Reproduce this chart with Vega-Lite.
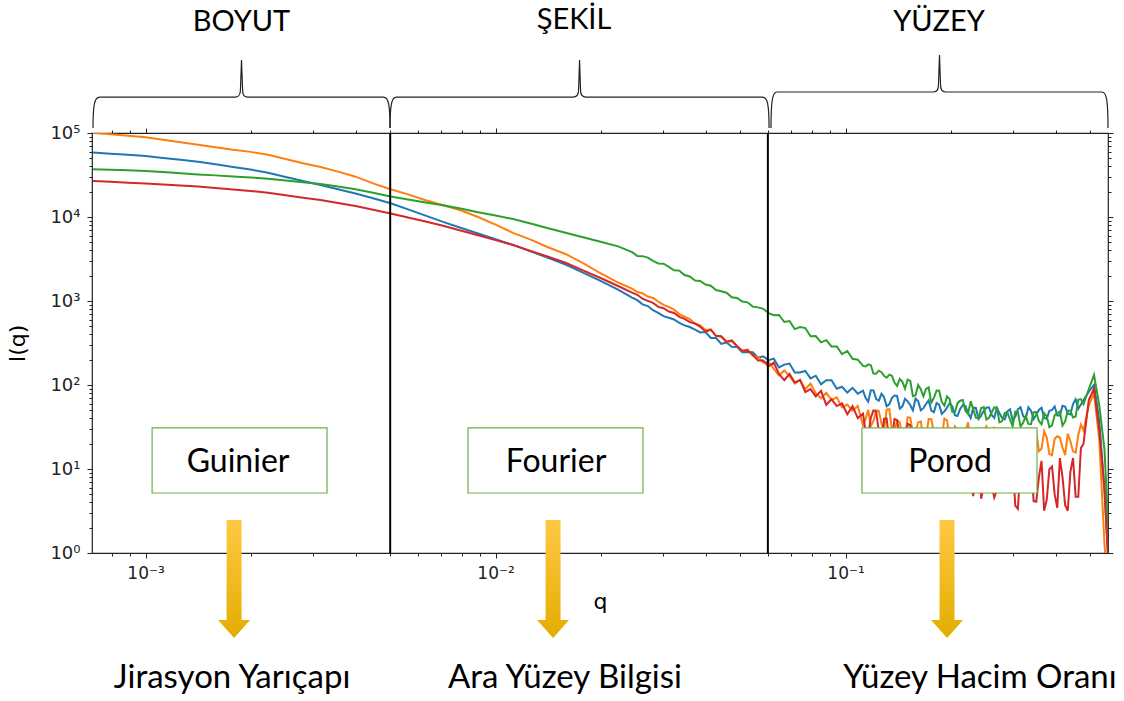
{
"$schema": "https://vega.github.io/schema/vega-lite/v6.json",
"autosize": {"type": "none"},
"padding": {"left": 92, "top": 133, "right": 16, "bottom": 148},
"width": 1016,
"height": 420,
"background": "white",
"config": {"view": {"stroke": "#222", "strokeWidth": 1.2}, "font": "DejaVu Sans"},
"data": {"values": [{}]},
"datasets": {
"blue": [
{"q":0.000708,"I":58600},{"q":0.000794,"I":56800},{"q":0.000891,"I":55000},{"q":0.001,"I":53100},{"q":0.001122,"I":50400},{"q":0.001259,"I":47900},{"q":0.001413,"I":45500},{"q":0.001585,"I":42400},{"q":0.001778,"I":39400},{"q":0.001995,"I":36700},{"q":0.002239,"I":33600},{"q":0.002512,"I":30000},{"q":0.002818,"I":26800},{"q":0.003162,"I":24000},{"q":0.003548,"I":21400},{"q":0.003981,"I":19050},{"q":0.004467,"I":16700},{"q":0.005012,"I":14600},{"q":0.005623,"I":12330},{"q":0.00631,"I":10400},{"q":0.007079,"I":8750},{"q":0.007943,"I":7450},{"q":0.008913,"I":6370},{"q":0.01,"I":5430},{"q":0.01122,"I":4650},{"q":0.01259,"I":3900},{"q":0.01413,"I":3270},{"q":0.01585,"I":2720},{"q":0.01778,"I":2180},{"q":0.01995,"I":1740},{"q":0.02239,"I":1370},
{"q":0.02455,"I":1096},{"q":0.02541,"I":1023},{"q":0.0263,"I":912},{"q":0.02723,"I":871},{"q":0.02818,"I":776},{"q":0.02917,"I":724},{"q":0.0302,"I":661},{"q":0.03126,"I":631},{"q":0.03236,"I":603},{"q":0.0335,"I":550},
{"q":0.03467,"I":513},{"q":0.03589,"I":490},{"q":0.03715,"I":457},{"q":0.03846,"I":422},{"q":0.03981,"I":427},{"q":0.04121,"I":363},{"q":0.04266,"I":363},{"q":0.04416,"I":309},{"q":0.04571,"I":320},{"q":0.04732,"I":286},
{"q":0.04898,"I":284},{"q":0.0507,"I":245},{"q":0.05248,"I":247},{"q":0.05433,"I":245},{"q":0.05623,"I":211},{"q":0.05821,"I":219},{"q":0.06026,"I":197},{"q":0.06237,"I":206},{"q":0.06457,"I":162},{"q":0.06683,"I":175},
{"q":0.06918,"I":180},{"q":0.07161,"I":141},{"q":0.07413,"I":141},{"q":0.07674,"I":147},{"q":0.07943,"I":120},{"q":0.08222,"I":129},{"q":0.08511,"I":102},{"q":0.0881,"I":114},{"q":0.0912,"I":114},{"q":0.09441,"I":90.2},
{"q":0.09772,"I":95.3},{"q":0.1012,"I":81.3},{"q":0.1047,"I":92.5},{"q":0.1084,"I":78.9},{"q":0.1122,"I":85.7},{"q":0.1161,"I":63.4},{"q":0.1202,"I":86.3},{"q":0.1245,"I":64.9},{"q":0.1288,"I":71.9},{"q":0.1334,"I":59.3},
{"q":0.138,"I":74.8},{"q":0.1429,"I":52.4},{"q":0.1479,"I":68.5},{"q":0.1531,"I":57.5},{"q":0.1585,"I":68.7},{"q":0.1641,"I":49.9},{"q":0.1698,"I":59.4},{"q":0.1758,"I":49.4},{"q":0.182,"I":60.8},{"q":0.1884,"I":45.4},
{"q":0.195,"I":53.8},{"q":0.2018,"I":56.0},{"q":0.2089,"I":42.7},{"q":0.2163,"I":57.4},{"q":0.2239,"I":46.2},{"q":0.2317,"I":53.7},{"q":0.2399,"I":39.4},{"q":0.2483,"I":49.3},{"q":0.257,"I":54.3},{"q":0.2661,"I":40.6},
{"q":0.2754,"I":46.0},{"q":0.2851,"I":39.0},{"q":0.2951,"I":51.4},{"q":0.3055,"I":42.0},{"q":0.3162,"I":54.3},{"q":0.3273,"I":39.7},{"q":0.3388,"I":49.5},{"q":0.3508,"I":44.1},{"q":0.3631,"I":53.5},{"q":0.3758,"I":39.4},
{"q":0.3891,"I":50.6},{"q":0.4027,"I":43.3},{"q":0.4169,"I":56.5},{"q":0.4315,"I":45.9},{"q":0.4467,"I":59.4},{"q":0.4624,"I":52.0},{"q":0.4786,"I":66.1},{"q":0.4955,"I":83.2},{"q":0.5129,"I":100},{"q":0.5309,"I":38.0},
{"q":0.5495,"I":5.62},{"q":0.5689,"I":0.363},
{"q":0.11415,"I":69.8},{"q":0.11812,"I":86.5},{"q":0.12229,"I":68.2},{"q":0.12667,"I":78.5},{"q":0.13104,"I":55.8},{"q":0.13572,"I":70.5},{"q":0.1404,"I":74.0},{"q":0.14539,"I":55.7},{"q":0.15048,"I":64.0},{"q":0.15577,"I":50.0},
{"q":0.16126,"I":64.3},{"q":0.16696,"I":53.0},{"q":0.17276,"I":65.8},{"q":0.17886,"I":47.3},{"q":0.18517,"I":58.2},{"q":0.19168,"I":48.5},{"q":0.1984,"I":60.8},{"q":0.20532,"I":43.8},{"q":0.21254,"I":51.9},{"q":0.22007,"I":56.0},
{"q":0.2278,"I":40.4},{"q":0.23574,"I":53.3},{"q":0.24408,"I":43.0},{"q":0.25263,"I":53.7},{"q":0.26148,"I":44.1},{"q":0.27074,"I":53.5},{"q":0.2802,"I":40.5},{"q":0.29007,"I":48.6},{"q":0.30024,"I":38.3},{"q":0.31082,"I":51.4},
{"q":0.32171,"I":42.8},{"q":0.333,"I":54.3},{"q":0.3447,"I":39.3},{"q":0.35691,"I":50.4},{"q":0.36943,"I":40.7},{"q":0.38235,"I":49.4},{"q":0.39588,"I":55.7},{"q":0.40972,"I":43.4},{"q":0.42416,"I":55.3},{"q":0.43901,"I":44.7},
{"q":0.45448,"I":67.5},{"q":0.47046,"I":58.6}
],
"orange": [
{"q":0.000708,"I":100000},{"q":0.000794,"I":96600},{"q":0.000891,"I":92900},{"q":0.001,"I":89100},{"q":0.001122,"I":83200},{"q":0.001259,"I":77600},{"q":0.001413,"I":72400},{"q":0.001585,"I":67600},{"q":0.001778,"I":63100},{"q":0.001995,"I":59600},{"q":0.002239,"I":55000},{"q":0.002512,"I":49000},{"q":0.002818,"I":43650},{"q":0.003162,"I":39400},{"q":0.003548,"I":34700},{"q":0.003981,"I":30200},{"q":0.004467,"I":25100},{"q":0.005012,"I":21400},{"q":0.005623,"I":18600},{"q":0.00631,"I":15850},{"q":0.007079,"I":13800},{"q":0.007943,"I":12020},{"q":0.008913,"I":10000},{"q":0.01,"I":8130},{"q":0.01122,"I":6460},{"q":0.01259,"I":5370},{"q":0.01413,"I":4370},{"q":0.01585,"I":3630},{"q":0.01778,"I":2820},{"q":0.01995,"I":2140},{"q":0.02239,"I":1660},
{"q":0.02455,"I":1406},{"q":0.02541,"I":1279},{"q":0.0263,"I":1239},{"q":0.02723,"I":1130},{"q":0.02818,"I":1086},{"q":0.02917,"I":984},{"q":0.0302,"I":900},{"q":0.03126,"I":849},{"q":0.03236,"I":789},{"q":0.0335,"I":698},
{"q":0.03467,"I":650},{"q":0.03589,"I":607},{"q":0.03715,"I":537},{"q":0.03846,"I":511},{"q":0.03981,"I":451},{"q":0.04121,"I":459},{"q":0.04266,"I":382},{"q":0.04416,"I":374},{"q":0.04571,"I":324},{"q":0.04732,"I":334},
{"q":0.04898,"I":291},{"q":0.0507,"I":256},{"q":0.05248,"I":265},{"q":0.05433,"I":222},{"q":0.05623,"I":217},{"q":0.05821,"I":184},{"q":0.06026,"I":189},{"q":0.06237,"I":156},{"q":0.06457,"I":130},{"q":0.06683,"I":149},
{"q":0.06918,"I":128},{"q":0.07161,"I":104},{"q":0.07413,"I":114},{"q":0.07674,"I":89.5},{"q":0.07943,"I":104},{"q":0.08222,"I":79.8},{"q":0.08511,"I":69.5},{"q":0.0881,"I":80.9},{"q":0.0912,"I":66.5},{"q":0.09441,"I":71.3},
{"q":0.09772,"I":54.2},{"q":0.1012,"I":58.6},{"q":0.1047,"I":49.3},{"q":0.1084,"I":56.4},{"q":0.1122,"I":33.1},{"q":0.1161,"I":50.6},{"q":0.1202,"I":37.4},{"q":0.1245,"I":49.0},{"q":0.1288,"I":28.9},{"q":0.1334,"I":51.5},
{"q":0.138,"I":28.4},{"q":0.1429,"I":35.9},{"q":0.1479,"I":24.0},{"q":0.1531,"I":40.9},{"q":0.1585,"I":27.4},{"q":0.1641,"I":36.6},{"q":0.1698,"I":23.7},{"q":0.1758,"I":39.1},{"q":0.182,"I":27.1},{"q":0.1884,"I":23.9},
{"q":0.195,"I":38.0},{"q":0.2018,"I":20.7},{"q":0.2089,"I":29.6},{"q":0.2163,"I":21.2},{"q":0.2239,"I":36.0},{"q":0.2317,"I":22.4},{"q":0.2399,"I":17.8},{"q":0.2483,"I":29.2},{"q":0.257,"I":22.4},{"q":0.2661,"I":29.9},
{"q":0.2754,"I":17.4},{"q":0.2851,"I":25.1},{"q":0.2951,"I":15.3},{"q":0.3055,"I":27.1},{"q":0.3162,"I":17.7},{"q":0.3273,"I":22.2},{"q":0.3388,"I":15.5},{"q":0.3508,"I":27.5},{"q":0.3631,"I":17.4},{"q":0.3758,"I":23.7},
{"q":0.3891,"I":14.6},{"q":0.4027,"I":24.5},{"q":0.4169,"I":18.0},{"q":0.4315,"I":26.3},{"q":0.4467,"I":16.2},{"q":0.4624,"I":25.4},{"q":0.4786,"I":28.8},{"q":0.4955,"I":57.5},{"q":0.5129,"I":79.4},{"q":0.5309,"I":22.4},
{"q":0.5495,"I":1.26},{"q":0.5689,"I":0.158},
{"q":0.11415,"I":39.5},{"q":0.11812,"I":32.4},{"q":0.12229,"I":50.0},{"q":0.12667,"I":35.1},{"q":0.13104,"I":50.9},{"q":0.13572,"I":29.0},{"q":0.1404,"I":37.9},{"q":0.14539,"I":23.4},{"q":0.15048,"I":41.3},{"q":0.15577,"I":26.7},
{"q":0.16126,"I":35.7},{"q":0.16696,"I":22.3},{"q":0.17276,"I":39.4},{"q":0.17886,"I":27.4},{"q":0.18517,"I":22.5},{"q":0.19168,"I":39.7},{"q":0.1984,"I":22.4},{"q":0.20532,"I":32.1},{"q":0.21254,"I":20.0},{"q":0.22007,"I":27.6},
{"q":0.2278,"I":18.5},{"q":0.23574,"I":30.3},{"q":0.24408,"I":20.9},{"q":0.25263,"I":32.1},{"q":0.26148,"I":18.0},{"q":0.27074,"I":24.9},{"q":0.2802,"I":15.6},{"q":0.29007,"I":28.6},{"q":0.30024,"I":18.0},{"q":0.31082,"I":26.9},
{"q":0.32171,"I":18.8},{"q":0.333,"I":15.1},{"q":0.3447,"I":24.1},{"q":0.35691,"I":16.3},{"q":0.36943,"I":28.2},{"q":0.38235,"I":15.1},{"q":0.39588,"I":22.9},{"q":0.40972,"I":23.7},{"q":0.42416,"I":14.6},{"q":0.43901,"I":21.4},
{"q":0.45448,"I":15.7},{"q":0.47046,"I":33.9}
],
"green": [
{"q":0.000708,"I":37000},{"q":0.000794,"I":36400},{"q":0.000891,"I":35900},{"q":0.001,"I":35300},{"q":0.001122,"I":34300},{"q":0.001259,"I":33200},{"q":0.001413,"I":32100},{"q":0.001585,"I":31300},{"q":0.001778,"I":30400},{"q":0.001995,"I":29600},{"q":0.002239,"I":28500},{"q":0.002512,"I":27200},{"q":0.002818,"I":25900},{"q":0.003162,"I":24700},{"q":0.003548,"I":23100},{"q":0.003981,"I":21400},{"q":0.004467,"I":19400},{"q":0.005012,"I":17500},{"q":0.005623,"I":16200},{"q":0.00631,"I":14900},{"q":0.007079,"I":13800},{"q":0.007943,"I":12600},{"q":0.008913,"I":11400},{"q":0.01,"I":10400},{"q":0.01122,"I":9460},{"q":0.01259,"I":8360},{"q":0.01413,"I":7360},{"q":0.01585,"I":6500},{"q":0.01778,"I":5740},{"q":0.01995,"I":5070},{"q":0.02239,"I":4470},
{"q":0.02455,"I":3820},{"q":0.02541,"I":3440},{"q":0.0263,"I":3420},{"q":0.02723,"I":3290},{"q":0.02818,"I":3000},{"q":0.02917,"I":2800},{"q":0.0302,"I":2780},{"q":0.03126,"I":2550},{"q":0.03236,"I":2320},{"q":0.0335,"I":2300},
{"q":0.03467,"I":2040},{"q":0.03589,"I":1960},{"q":0.03715,"I":1750},{"q":0.03846,"I":1730},{"q":0.03981,"I":1570},{"q":0.04121,"I":1520},{"q":0.04266,"I":1350},{"q":0.04416,"I":1306},{"q":0.04571,"I":1256},{"q":0.04732,"I":1107},
{"q":0.04898,"I":1086},{"q":0.0507,"I":986},{"q":0.05248,"I":964},{"q":0.05433,"I":857},{"q":0.05623,"I":840},{"q":0.05821,"I":807},{"q":0.06026,"I":718},{"q":0.06237,"I":676},{"q":0.06457,"I":682},{"q":0.06683,"I":562},
{"q":0.06918,"I":578},{"q":0.07161,"I":463},{"q":0.07413,"I":490},{"q":0.07674,"I":476},{"q":0.07943,"I":380},{"q":0.08222,"I":382},{"q":0.08511,"I":322},{"q":0.0881,"I":342},{"q":0.0912,"I":288},{"q":0.09441,"I":287},
{"q":0.09772,"I":233},{"q":0.1012,"I":254},{"q":0.1047,"I":205},{"q":0.1084,"I":200},{"q":0.1122,"I":169},{"q":0.1161,"I":176},{"q":0.1202,"I":137},{"q":0.1245,"I":148},{"q":0.1288,"I":128.5},{"q":0.1334,"I":132.7},
{"q":0.138,"I":107},{"q":0.1429,"I":118},{"q":0.1479,"I":90.4},{"q":0.1531,"I":112},{"q":0.1585,"I":75.0},{"q":0.1641,"I":88.9},{"q":0.1698,"I":89.7},{"q":0.1758,"I":61.4},{"q":0.182,"I":85.7},{"q":0.1884,"I":62.8},
{"q":0.195,"I":73.1},{"q":0.2018,"I":47.8},{"q":0.2089,"I":60.8},{"q":0.2163,"I":66.4},{"q":0.2239,"I":45.3},{"q":0.2317,"I":51.2},{"q":0.2399,"I":40.1},{"q":0.2483,"I":54.5},{"q":0.257,"I":40.7},{"q":0.2661,"I":54.1},
{"q":0.2754,"I":35.9},{"q":0.2851,"I":46.5},{"q":0.2951,"I":38.9},{"q":0.3055,"I":48.1},{"q":0.3162,"I":32.0},{"q":0.3273,"I":42.5},{"q":0.3388,"I":34.2},{"q":0.3508,"I":47.6},{"q":0.3631,"I":34.0},{"q":0.3758,"I":42.3},
{"q":0.3891,"I":33.0},{"q":0.4027,"I":46.0},{"q":0.4169,"I":32.9},{"q":0.4315,"I":49.4},{"q":0.4467,"I":41.1},{"q":0.4624,"I":66.5},{"q":0.4786,"I":58.9},{"q":0.4955,"I":89.1},{"q":0.5129,"I":132},{"q":0.5309,"I":57.5},
{"q":0.5495,"I":17.0},{"q":0.5689,"I":0.832},
{"q":0.11415,"I":166},{"q":0.11812,"I":172},{"q":0.12229,"I":136},{"q":0.12667,"I":142},{"q":0.13104,"I":122},{"q":0.13572,"I":128.5},{"q":0.1404,"I":97.5},{"q":0.14539,"I":109},{"q":0.15048,"I":116},{"q":0.15577,"I":73.8},
{"q":0.16126,"I":100},{"q":0.16696,"I":73.5},{"q":0.17276,"I":93.5},{"q":0.17886,"I":70.1},{"q":0.18517,"I":85.3},{"q":0.19168,"I":57.0},{"q":0.1984,"I":67.9},{"q":0.20532,"I":47.5},{"q":0.21254,"I":65.0},{"q":0.22007,"I":49.4},
{"q":0.2278,"I":64.3},{"q":0.23574,"I":40.8},{"q":0.24408,"I":53.1},{"q":0.25263,"I":38.7},{"q":0.26148,"I":47.0},{"q":0.27074,"I":52.4},{"q":0.2802,"I":37.2},{"q":0.29007,"I":47.2},{"q":0.30024,"I":32.1},{"q":0.31082,"I":47.8},
{"q":0.32171,"I":35.6},{"q":0.333,"I":34.4},{"q":0.3447,"I":47.4},{"q":0.35691,"I":37.2},{"q":0.36943,"I":46.1},{"q":0.38235,"I":31.5},{"q":0.39588,"I":43.8},{"q":0.40972,"I":48.4},{"q":0.42416,"I":36.8},{"q":0.43901,"I":49.4},
{"q":0.45448,"I":42.1},{"q":0.47046,"I":67.9}
],
"red": [
{"q":0.000708,"I":26900},{"q":0.000794,"I":26200},{"q":0.000891,"I":25600},{"q":0.001,"I":25100},{"q":0.001122,"I":24400},{"q":0.001259,"I":23700},{"q":0.001413,"I":23000},{"q":0.001585,"I":22200},{"q":0.001778,"I":21300},{"q":0.001995,"I":20400},{"q":0.002239,"I":19400},{"q":0.002512,"I":18200},{"q":0.002818,"I":17000},{"q":0.003162,"I":15900},{"q":0.003548,"I":14700},{"q":0.003981,"I":13500},{"q":0.004467,"I":12200},{"q":0.005012,"I":11000},{"q":0.005623,"I":9890},{"q":0.00631,"I":8830},{"q":0.007079,"I":7870},{"q":0.007943,"I":6920},{"q":0.008913,"I":6050},{"q":0.01,"I":5310},{"q":0.01122,"I":4650},{"q":0.01259,"I":3950},{"q":0.01413,"I":3370},{"q":0.01585,"I":2850},{"q":0.01778,"I":2320},{"q":0.01995,"I":1880},{"q":0.02239,"I":1510},
{"q":0.02455,"I":1259},{"q":0.02541,"I":1186},{"q":0.0263,"I":1064},{"q":0.02723,"I":1005},{"q":0.02818,"I":948},{"q":0.02917,"I":851},{"q":0.0302,"I":820},{"q":0.03126,"I":748},{"q":0.03236,"I":721},{"q":0.0335,"I":647},
{"q":0.03467,"I":614},{"q":0.03589,"I":560},{"q":0.03715,"I":540},{"q":0.03846,"I":492},{"q":0.03981,"I":432},{"q":0.04121,"I":453},{"q":0.04266,"I":385},{"q":0.04416,"I":380},{"q":0.04571,"I":327},{"q":0.04732,"I":339},
{"q":0.04898,"I":290},{"q":0.0507,"I":254},{"q":0.05248,"I":259},{"q":0.05433,"I":229},{"q":0.05623,"I":196},{"q":0.05821,"I":196},{"q":0.06026,"I":166},{"q":0.06237,"I":185},{"q":0.06457,"I":135},{"q":0.06683,"I":114},
{"q":0.06918,"I":135},{"q":0.07161,"I":107},{"q":0.07413,"I":115},{"q":0.07674,"I":82.4},{"q":0.07943,"I":89.5},{"q":0.08222,"I":73.1},{"q":0.08511,"I":85.1},{"q":0.0881,"I":58.1},{"q":0.0912,"I":67.6},{"q":0.09441,"I":56.1},
{"q":0.09772,"I":60.3},{"q":0.1012,"I":44.9},{"q":0.1047,"I":56.0},{"q":0.1084,"I":40.4},{"q":0.1122,"I":45.5},{"q":0.1161,"I":25.5},{"q":0.1202,"I":49.8},{"q":0.1245,"I":28.0},{"q":0.1288,"I":39.5},{"q":0.1334,"I":21.2},
{"q":0.138,"I":39.4},{"q":0.1429,"I":23.2},{"q":0.1479,"I":18.8},{"q":0.1531,"I":33.3},{"q":0.1585,"I":14.2},{"q":0.1641,"I":21.8},{"q":0.1698,"I":13.4},{"q":0.1758,"I":26.0},{"q":0.182,"I":13.3},{"q":0.1884,"I":7.13},
{"q":0.195,"I":20.7},{"q":0.2018,"I":11.4},{"q":0.2089,"I":21.6},{"q":0.2163,"I":6.58},{"q":0.2239,"I":14.5},{"q":0.2317,"I":4.75},{"q":0.2399,"I":16.5},{"q":0.2483,"I":6.31},{"q":0.257,"I":10.2},{"q":0.2661,"I":4.56},
{"q":0.2754,"I":15.8},{"q":0.2851,"I":5.70},{"q":0.2951,"I":11.0},{"q":0.3055,"I":3.67},{"q":0.3162,"I":11.1},{"q":0.3273,"I":5.46},{"q":0.3388,"I":12.2},{"q":0.3508,"I":4.08},{"q":0.3631,"I":12.5},{"q":0.3758,"I":4.32},
{"q":0.3891,"I":10.7},{"q":0.4027,"I":3.44},{"q":0.4169,"I":7.93},{"q":0.4315,"I":3.18},{"q":0.4467,"I":13.5},{"q":0.4624,"I":4.66},{"q":0.4786,"I":20.0},{"q":0.4955,"I":66.1},{"q":0.5129,"I":91.2},{"q":0.5309,"I":28.8},
{"q":0.5495,"I":5.62},{"q":0.5689,"I":0.363},
{"q":0.11415,"I":27.7},{"q":0.11812,"I":40.9},{"q":0.12229,"I":48.1},{"q":0.12667,"I":20.5},{"q":0.13104,"I":40.0},{"q":0.13572,"I":22.5},{"q":0.1404,"I":38.1},{"q":0.14539,"I":22.4},{"q":0.15048,"I":34.6},{"q":0.15577,"I":16.1},
{"q":0.16126,"I":23.7},{"q":0.16696,"I":12.1},{"q":0.17276,"I":23.5},{"q":0.17886,"I":13.8},{"q":0.18517,"I":23.3},{"q":0.19168,"I":7.41},{"q":0.1984,"I":18.6},{"q":0.20532,"I":7.08},{"q":0.21254,"I":14.4},{"q":0.22007,"I":21.7},
{"q":0.2278,"I":7.13},{"q":0.23574,"I":15.7},{"q":0.24408,"I":4.43},{"q":0.25263,"I":16.6},{"q":0.26148,"I":6.34},{"q":0.27074,"I":5.60},{"q":0.2802,"I":15.6},{"q":0.29007,"I":6.55},{"q":0.30024,"I":12.6},{"q":0.31082,"I":3.36},
{"q":0.32171,"I":9.44},{"q":0.333,"I":12.4},{"q":0.3447,"I":4.15},{"q":0.35691,"I":8.02},{"q":0.36943,"I":3.18},{"q":0.38235,"I":9.95},{"q":0.39588,"I":5.02},{"q":0.40972,"I":13.5},{"q":0.42416,"I":3.71},{"q":0.43901,"I":9.23},
{"q":0.45448,"I":4.66},{"q":0.47046,"I":17.7}
]
},
"resolve": {"axis": {"x": "independent", "y": "independent"}},
"layer": [
{"data": {"name": "blue"},
 "mark": {"type": "line", "color": "#1f77b4", "strokeWidth": 2, "clip": true},
 "encoding": {
  "x": {"field": "q", "type": "quantitative", "scale": {"type": "log", "domain": [0.000703, 0.5623], "nice": false},
   "axis": {"orient": "bottom", "values": [0.0008,0.0009,0.001,0.002,0.003,0.004,0.005,0.006,0.007,0.008,0.009,0.01,0.02,0.03,0.04,0.05,0.06,0.07,0.08,0.09,0.1,0.2,0.3,0.4,0.5],
    "labelExpr": "datum.value == 0.001 ? '10⁻³' : datum.value == 0.01 ? '10⁻²' : datum.value == 0.1 ? '10⁻¹' : ''",
    "tickSize": {"condition": {"test": "datum.value == 0.001 || datum.value == 0.01 || datum.value == 0.1", "value": 5}, "value": 3},
    "tickColor": "#222", "tickWidth": 1, "domain": false, "grid": false,
    "labelFont": "DejaVu Sans", "labelFontSize": 17, "labelColor": "#222", "labelPadding": 7, "labelOverlap": false, "labelFlush": false, "labelBound": false,
    "title": "q", "titleFont": "DejaVu Sans", "titleFontSize": 22, "titleFontWeight": "normal", "titleColor": "#000", "titlePadding": 10}},
  "y": {"field": "I", "type": "quantitative", "scale": {"type": "log", "domain": [1, 100000], "nice": false},
   "axis": {"orient": "left", "values": [1,2,3,4,5,6,7,8,9,10,20,30,40,50,60,70,80,90,100,200,300,400,500,600,700,800,900,1000,2000,3000,4000,5000,6000,7000,8000,9000,10000,20000,30000,40000,50000,60000,70000,80000,90000,100000],
    "labelExpr": "datum.value == 1 ? '10⁰' : datum.value == 10 ? '10¹' : datum.value == 100 ? '10²' : datum.value == 1000 ? '10³' : datum.value == 10000 ? '10⁴' : datum.value == 100000 ? '10⁵' : ''",
    "tickSize": {"condition": {"test": "datum.value == 1 || datum.value == 10 || datum.value == 100 || datum.value == 1000 || datum.value == 10000 || datum.value == 100000", "value": 5}, "value": 3},
    "tickColor": "#222", "tickWidth": 1, "domain": false, "grid": false,
    "labelFont": "DejaVu Sans", "labelFontSize": 18, "labelColor": "#222", "labelPadding": 7, "labelOverlap": false, "labelFlush": false, "labelBound": false,
    "title": "I(q)", "titleFont": "DejaVu Sans", "titleFontSize": 22, "titleFontWeight": "normal", "titleColor": "#000", "titlePadding": 20}}
 }},
{"data": {"name": "orange"},
 "mark": {"type": "line", "color": "#ff7f0e", "strokeWidth": 2, "clip": true},
 "encoding": {
  "x": {"field": "q", "type": "quantitative", "scale": {"type": "log", "domain": [0.000703, 0.5623], "nice": false},
   "axis": {"orient": "top", "values": [0.0008,0.0009,0.001,0.002,0.003,0.004,0.005,0.006,0.007,0.008,0.009,0.01,0.02,0.03,0.04,0.05,0.06,0.07,0.08,0.09,0.1,0.2,0.3,0.4,0.5],
    "labels": false, "title": null,
    "tickSize": {"condition": {"test": "datum.value == 0.001 || datum.value == 0.01 || datum.value == 0.1", "value": 5}, "value": 3},
    "tickColor": "#222", "tickWidth": 1, "domain": false, "grid": false}},
  "y": {"field": "I", "type": "quantitative", "scale": {"type": "log", "domain": [1, 100000], "nice": false},
   "axis": {"orient": "right", "values": [1,2,3,4,5,6,7,8,9,10,20,30,40,50,60,70,80,90,100,200,300,400,500,600,700,800,900,1000,2000,3000,4000,5000,6000,7000,8000,9000,10000,20000,30000,40000,50000,60000,70000,80000,90000,100000],
    "labels": false, "title": null,
    "tickSize": {"condition": {"test": "datum.value == 1 || datum.value == 10 || datum.value == 100 || datum.value == 1000 || datum.value == 10000 || datum.value == 100000", "value": 5}, "value": 3},
    "tickColor": "#222", "tickWidth": 1, "domain": false, "grid": false}}
 }},
{"data": {"name": "green"},
 "mark": {"type": "line", "color": "#2ca02c", "strokeWidth": 2, "clip": true},
 "encoding": {
  "x": {"field": "q", "type": "quantitative", "scale": {"type": "log", "domain": [0.000703, 0.5623], "nice": false}, "axis": null},
  "y": {"field": "I", "type": "quantitative", "scale": {"type": "log", "domain": [1, 100000], "nice": false}, "axis": null}
 }},
{"data": {"name": "red"},
 "mark": {"type": "line", "color": "#d62728", "strokeWidth": 2, "clip": true},
 "encoding": {
  "x": {"field": "q", "type": "quantitative", "scale": {"type": "log", "domain": [0.000703, 0.5623], "nice": false}, "axis": null},
  "y": {"field": "I", "type": "quantitative", "scale": {"type": "log", "domain": [1, 100000], "nice": false}, "axis": null}
 }},
{"mark": {"type": "rule", "color": "#000", "strokeWidth": 2},
 "encoding": {"x": {"datum": 0.005, "type": "quantitative", "scale": {"type": "log", "domain": [0.000703, 0.5623], "nice": false}, "axis": null}}},
{"mark": {"type": "rule", "color": "#000", "strokeWidth": 2},
 "encoding": {"x": {"datum": 0.06, "type": "quantitative", "scale": {"type": "log", "domain": [0.000703, 0.5623], "nice": false}, "axis": null}}},
{"mark": {"type": "rect", "fill": "white", "stroke": "#70ad47", "strokeWidth": 1.2},
 "encoding": {
  "x": {"datum": 0.001044, "type": "quantitative", "scale": {"type": "log", "domain": [0.000703, 0.5623], "nice": false}, "axis": null},
  "x2": {"datum": 0.0033},
  "y": {"datum": 30.8, "type": "quantitative", "scale": {"type": "log", "domain": [1, 100000], "nice": false}, "axis": null},
  "y2": {"datum": 5.18}}},
{"mark": {"type": "rect", "fill": "white", "stroke": "#70ad47", "strokeWidth": 1.2},
 "encoding": {
  "x": {"datum": 0.008345, "type": "quantitative", "scale": {"type": "log", "domain": [0.000703, 0.5623], "nice": false}, "axis": null},
  "x2": {"datum": 0.02638},
  "y": {"datum": 30.8, "type": "quantitative", "scale": {"type": "log", "domain": [1, 100000], "nice": false}, "axis": null},
  "y2": {"datum": 5.18}}},
{"mark": {"type": "rect", "fill": "white", "stroke": "#70ad47", "strokeWidth": 1.2},
 "encoding": {
  "x": {"datum": 0.1114, "type": "quantitative", "scale": {"type": "log", "domain": [0.000703, 0.5623], "nice": false}, "axis": null},
  "x2": {"datum": 0.3525},
  "y": {"datum": 30.8, "type": "quantitative", "scale": {"type": "log", "domain": [1, 100000], "nice": false}, "axis": null},
  "y2": {"datum": 5.18}}},
{"mark": {"type": "text", "text": "Guinier", "font": "Lato", "fontSize": 32, "color": "#000", "align": "center", "baseline": "alphabetic"},
 "encoding": {
  "x": {"datum": 0.001838, "type": "quantitative", "scale": {"type": "log", "domain": [0.000703, 0.5623], "nice": false}, "axis": null},
  "y": {"datum": 9.21, "type": "quantitative", "scale": {"type": "log", "domain": [1, 100000], "nice": false}, "axis": null}}},
{"mark": {"type": "text", "text": "Fourier", "font": "Lato", "fontSize": 32, "color": "#000", "align": "center", "baseline": "alphabetic"},
 "encoding": {
  "x": {"datum": 0.01489, "type": "quantitative", "scale": {"type": "log", "domain": [0.000703, 0.5623], "nice": false}, "axis": null},
  "y": {"datum": 9.21, "type": "quantitative", "scale": {"type": "log", "domain": [1, 100000], "nice": false}, "axis": null}}},
{"mark": {"type": "text", "text": "Porod", "font": "Lato", "fontSize": 32, "color": "#000", "align": "center", "baseline": "alphabetic"},
 "encoding": {
  "x": {"datum": 0.1989, "type": "quantitative", "scale": {"type": "log", "domain": [0.000703, 0.5623], "nice": false}, "axis": null},
  "y": {"datum": 9.21, "type": "quantitative", "scale": {"type": "log", "domain": [1, 100000], "nice": false}, "axis": null}}},
{"mark": {"type": "point", "shape": "M-0.127,-1L0.127,-1L0.127,0.695L0.271,0.695L0,1L-0.271,0.695L-0.127,0.695Z", "size": 13924, "filled": true, "opacity": 1, "strokeWidth": 0,
  "fill": {"gradient": "linear", "x1": 0, "y1": 0, "x2": 0, "y2": 1, "stops": [{"offset": 0, "color": "#ffc845"}, {"offset": 1, "color": "#e3ad00"}]}},
 "encoding": {
  "x": {"datum": 0.00179, "type": "quantitative", "scale": {"type": "log", "domain": [0.000703, 0.5623], "nice": false}, "axis": null},
  "y": {"datum": 0.4903, "type": "quantitative", "scale": {"type": "log", "domain": [1, 100000], "nice": false}, "axis": null}}},
{"mark": {"type": "point", "shape": "M-0.127,-1L0.127,-1L0.127,0.695L0.271,0.695L0,1L-0.271,0.695L-0.127,0.695Z", "size": 13924, "filled": true, "opacity": 1, "strokeWidth": 0,
  "fill": {"gradient": "linear", "x1": 0, "y1": 0, "x2": 0, "y2": 1, "stops": [{"offset": 0, "color": "#ffc845"}, {"offset": 1, "color": "#e3ad00"}]}},
 "encoding": {
  "x": {"datum": 0.0146, "type": "quantitative", "scale": {"type": "log", "domain": [0.000703, 0.5623], "nice": false}, "axis": null},
  "y": {"datum": 0.4903, "type": "quantitative", "scale": {"type": "log", "domain": [1, 100000], "nice": false}, "axis": null}}},
{"mark": {"type": "point", "shape": "M-0.127,-1L0.127,-1L0.127,0.695L0.271,0.695L0,1L-0.271,0.695L-0.127,0.695Z", "size": 13924, "filled": true, "opacity": 1, "strokeWidth": 0,
  "fill": {"gradient": "linear", "x1": 0, "y1": 0, "x2": 0, "y2": 1, "stops": [{"offset": 0, "color": "#ffc845"}, {"offset": 1, "color": "#e3ad00"}]}},
 "encoding": {
  "x": {"datum": 0.195, "type": "quantitative", "scale": {"type": "log", "domain": [0.000703, 0.5623], "nice": false}, "axis": null},
  "y": {"datum": 0.4903, "type": "quantitative", "scale": {"type": "log", "domain": [1, 100000], "nice": false}, "axis": null}}},
{"mark": {"type": "point", "shape": "M-1,0.209C-1,0.054,-0.99,0,-0.956,0L-0.04,0C-0.013,0,-0.007,-0.02,-0.007,-0.054L0,-0.249L0.007,-0.054C0.007,-0.02,0.013,0,0.04,0L0.956,0C0.99,0,1,0.054,1,0.209", "size": 88209, "filled": false, "stroke": "#222", "strokeWidth": 1.2, "opacity": 1},
 "encoding": {
  "x": {"datum": 0.00188, "type": "quantitative", "scale": {"type": "log", "domain": [0.000703, 0.5623], "nice": false}, "axis": null},
  "y": {"datum": 268000, "type": "quantitative", "scale": {"type": "log", "domain": [1, 100000], "nice": false}, "axis": null}}},
{"mark": {"type": "point", "shape": "M-1,0.164C-1,0.042,-0.992,0,-0.966,0L-0.032,0C-0.011,0,-0.005,-0.016,-0.005,-0.042L0,-0.195L0.005,-0.042C0.005,-0.016,0.011,0,0.032,0L0.966,0C0.992,0,1,0.042,1,0.164", "size": 143641, "filled": false, "stroke": "#222", "strokeWidth": 1.2, "opacity": 1},
 "encoding": {
  "x": {"datum": 0.01738, "type": "quantitative", "scale": {"type": "log", "domain": [0.000703, 0.5623], "nice": false}, "axis": null},
  "y": {"datum": 268000, "type": "quantitative", "scale": {"type": "log", "domain": [1, 100000], "nice": false}, "axis": null}}},
{"mark": {"type": "point", "shape": "M-1,0.214C-1,0.047,-0.991,0,-0.964,0L-0.036,0C-0.012,0,-0.006,-0.018,-0.006,-0.047L0,-0.22L0.006,-0.047C0.006,-0.018,0.012,0,0.036,0L0.964,0C0.991,0,1,0.047,1,0.214", "size": 113569, "filled": false, "stroke": "#222", "strokeWidth": 1.2, "opacity": 1},
 "encoding": {
  "x": {"datum": 0.18557, "type": "quantitative", "scale": {"type": "log", "domain": [0.000703, 0.5623], "nice": false}, "axis": null},
  "y": {"datum": 307600, "type": "quantitative", "scale": {"type": "log", "domain": [1, 100000], "nice": false}, "axis": null}}},
{"mark": {"type": "text", "text": "BOYUT", "font": "Lato", "fontSize": 29, "color": "#000", "align": "center", "baseline": "alphabetic"},
 "encoding": {
  "x": {"datum": 0.00188, "type": "quantitative", "scale": {"type": "log", "domain": [0.000703, 0.5623], "nice": false}, "axis": null},
  "y": {"datum": 1638000, "type": "quantitative", "scale": {"type": "log", "domain": [1, 100000], "nice": false}, "axis": null}}},
{"mark": {"type": "text", "text": "ŞEKİL", "font": "Lato", "fontSize": 29, "color": "#000", "align": "center", "baseline": "alphabetic"},
 "encoding": {
  "x": {"datum": 0.01676, "type": "quantitative", "scale": {"type": "log", "domain": [0.000703, 0.5623], "nice": false}, "axis": null},
  "y": {"datum": 1730000, "type": "quantitative", "scale": {"type": "log", "domain": [1, 100000], "nice": false}, "axis": null}}},
{"mark": {"type": "text", "text": "YÜZEY", "font": "Lato", "fontSize": 29, "color": "#000", "align": "center", "baseline": "alphabetic"},
 "encoding": {
  "x": {"datum": 0.18497, "type": "quantitative", "scale": {"type": "log", "domain": [0.000703, 0.5623], "nice": false}, "axis": null},
  "y": {"datum": 1638000, "type": "quantitative", "scale": {"type": "log", "domain": [1, 100000], "nice": false}, "axis": null}}},
{"mark": {"type": "text", "text": "Jirasyon Yarıçapı", "font": "Lato", "fontSize": 33, "color": "#000", "align": "center", "baseline": "alphabetic"},
 "encoding": {
  "x": {"datum": 0.001767, "type": "quantitative", "scale": {"type": "log", "domain": [0.000703, 0.5623], "nice": false}, "axis": null},
  "y": {"datum": 0.02472, "type": "quantitative", "scale": {"type": "log", "domain": [1, 100000], "nice": false}, "axis": null}}},
{"mark": {"type": "text", "text": "Ara Yüzey Bilgisi", "font": "Lato", "fontSize": 33, "color": "#000", "align": "center", "baseline": "alphabetic"},
 "encoding": {
  "x": {"datum": 0.01579, "type": "quantitative", "scale": {"type": "log", "domain": [0.000703, 0.5623], "nice": false}, "axis": null},
  "y": {"datum": 0.02472, "type": "quantitative", "scale": {"type": "log", "domain": [1, 100000], "nice": false}, "axis": null}}},
{"mark": {"type": "text", "text": "Yüzey Hacim Oranı", "font": "Lato", "fontSize": 33, "color": "#000", "align": "center", "baseline": "alphabetic"},
 "encoding": {
  "x": {"datum": 0.2422, "type": "quantitative", "scale": {"type": "log", "domain": [0.000703, 0.5623], "nice": false}, "axis": null},
  "y": {"datum": 0.02472, "type": "quantitative", "scale": {"type": "log", "domain": [1, 100000], "nice": false}, "axis": null}}}
]
}
